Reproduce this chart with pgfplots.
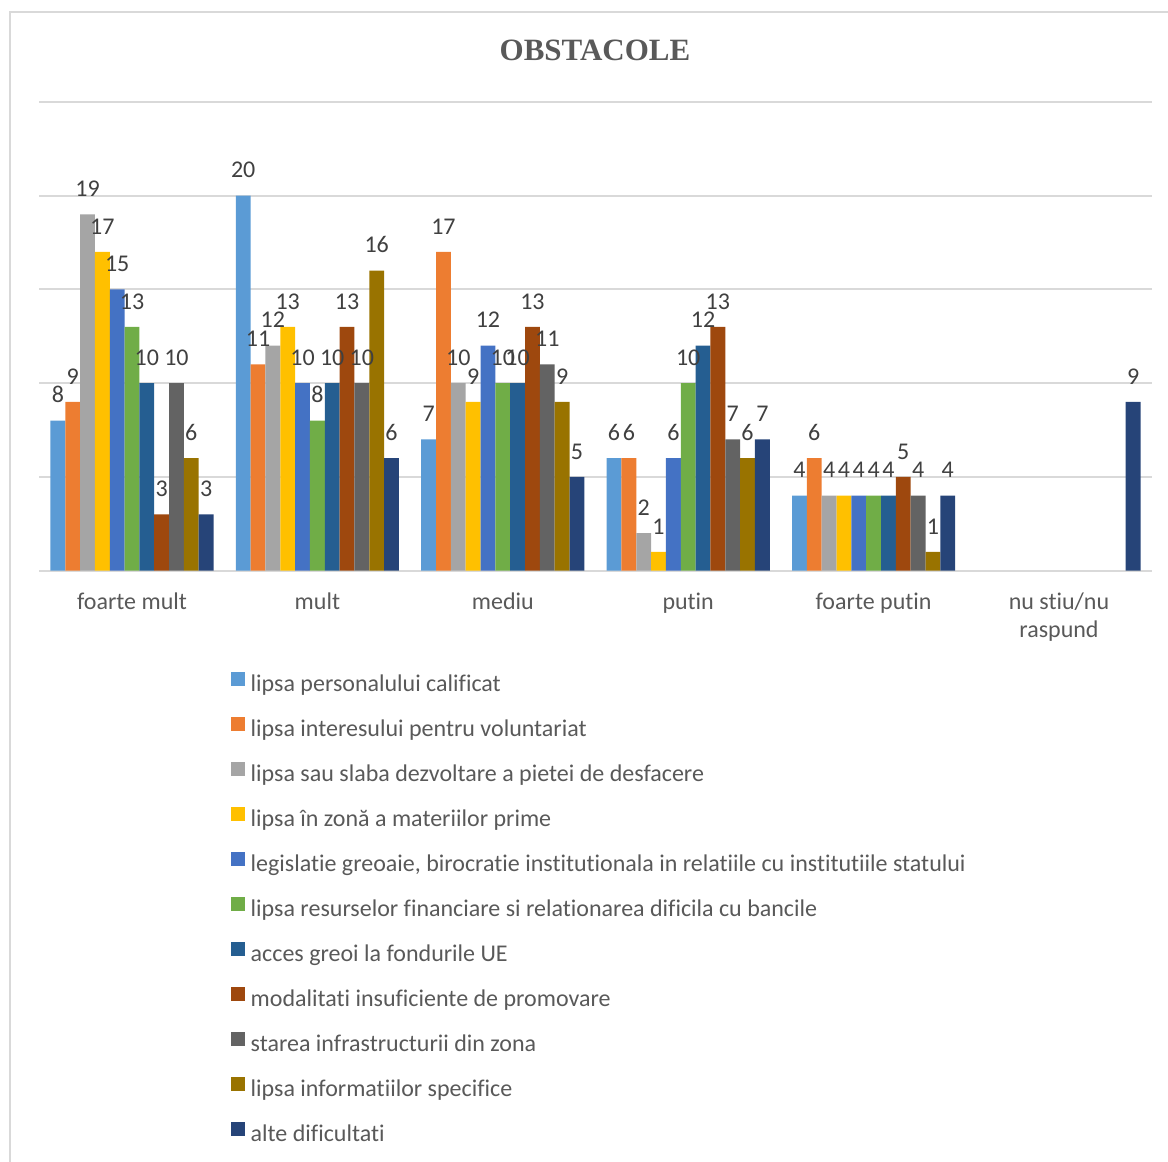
\documentclass[border=0pt]{standalone}
\usepackage{pgfplots}
\pgfplotsset{compat=1.18}
\usepackage{fontspec}
\setmainfont{Carlito}[Ligatures=NoCommon]
\newfontfamily\titlefont{Liberation Serif}
\definecolor{c1}{HTML}{5B9BD5}
\definecolor{c2}{HTML}{ED7D31}
\definecolor{c3}{HTML}{A5A5A5}
\definecolor{c4}{HTML}{FFC000}
\definecolor{c5}{HTML}{4472C4}
\definecolor{c6}{HTML}{70AD47}
\definecolor{c7}{HTML}{255E91}
\definecolor{c8}{HTML}{9E480E}
\definecolor{c9}{HTML}{636363}
\definecolor{c10}{HTML}{997300}
\definecolor{c11}{HTML}{264478}
\definecolor{gridc}{HTML}{D9D9D9}
\definecolor{textgray}{HTML}{595959}
\definecolor{labelgray}{HTML}{404040}
\begin{document}
\begin{tikzpicture}
\useasboundingbox (-19.65pt,-295.65pt) rectangle (564.35pt,285.35pt);
\draw[color=gridc, line width=1pt] (-14.65pt,-300pt) -- (-14.65pt,279.35pt) -- (570pt,279.35pt);
\begin{axis}[
  at={(0pt,0pt)}, anchor=south west,
  width=556.2pt, height=234.5pt, scale only axis,
  xmin=-0.5, xmax=5.5, ymin=0, ymax=25,
  ybar=0pt, bar width=0.08,
  clip=false,
  /pgf/number format/assume math mode=true,
  xtick={0,1,2,3,4,5},
  xticklabels={foarte mult, mult, mediu, putin, foarte putin, {{\setlength{\tabcolsep}{0pt}\begin{tabular}[t]{c}nu stiu/nu\\raspund\end{tabular}}}},
  xticklabel style={font=\fontsize{12}{14}\selectfont, color=textgray, anchor=base, yshift=-19.15pt, inner sep=0pt},
  ytick={0,5,10,15,20,25},
  yticklabels={},
  ymajorgrids,
  grid style={color=gridc, line width=1pt},
  axis line style={draw=none},
  major tick length=0pt,
  tick style={draw=none},
  title={OBSTACOLE},
  title style={font=\titlefont\bfseries\fontsize{15.5}{18}\selectfont, color=textgray, at={(0.49955,1.0846)}, anchor=center, inner sep=0pt},
  nodes near coords,
  every node near coord/.append style={font=\fontsize{12}{14}\selectfont, color=labelgray, anchor=base, yshift=8.85pt, inner sep=0pt},
  legend image code/.code={\fill[#1] (0pt,-0.25pt) rectangle (7pt,6.75pt);},
  legend cell align=left,
  legend style={at={(0.17233,-0.2170)}, anchor=north west, draw=none, fill=none, inner sep=0pt, outer sep=0pt, row sep=10.25pt, font=\fontsize{12}{14}\selectfont, text=textgray, nodes={inner sep=0pt, text height=8.5pt, text depth=2.5pt}, /tikz/every odd column/.style={column sep=2.85pt}},
]
\addplot[fill=c1, draw=none] coordinates {(0,8) (1,20) (2,7) (3,6) (4,4)};
\addplot[fill=c2, draw=none] coordinates {(0,9) (1,11) (2,17) (3,6) (4,6)};
\addplot[fill=c3, draw=none] coordinates {(0,19) (1,12) (2,10) (3,2) (4,4)};
\addplot[fill=c4, draw=none] coordinates {(0,17) (1,13) (2,9) (3,1) (4,4)};
\addplot[fill=c5, draw=none] coordinates {(0,15) (1,10) (2,12) (3,6) (4,4)};
\addplot[fill=c6, draw=none] coordinates {(0,13) (1,8) (2,10) (3,10) (4,4)};
\addplot[fill=c7, draw=none] coordinates {(0,10) (1,10) (2,10) (3,12) (4,4)};
\addplot[fill=c8, draw=none] coordinates {(0,3) (1,13) (2,13) (3,13) (4,5)};
\addplot[fill=c9, draw=none] coordinates {(0,10) (1,10) (2,11) (3,7) (4,4)};
\addplot[fill=c10, draw=none] coordinates {(0,6) (1,16) (2,9) (3,6) (4,1)};
\addplot[fill=c11, draw=none] coordinates {(0,3) (1,6) (2,5) (3,7) (4,4) (5,9)};
\legend{lipsa personalului calificat, lipsa interesului pentru voluntariat, lipsa sau slaba dezvoltare a pietei de desfacere, lipsa în zonă a materiilor prime, {legislatie greoaie, birocratie institutionala in relatiile cu institutiile statului}, lipsa resurselor financiare si relationarea dificila cu bancile, acces greoi la fondurile UE, modalitati insuficiente de promovare, starea infrastructurii din zona, lipsa informatiilor specifice, alte dificultati}
\end{axis}
\end{tikzpicture}
\end{document}
